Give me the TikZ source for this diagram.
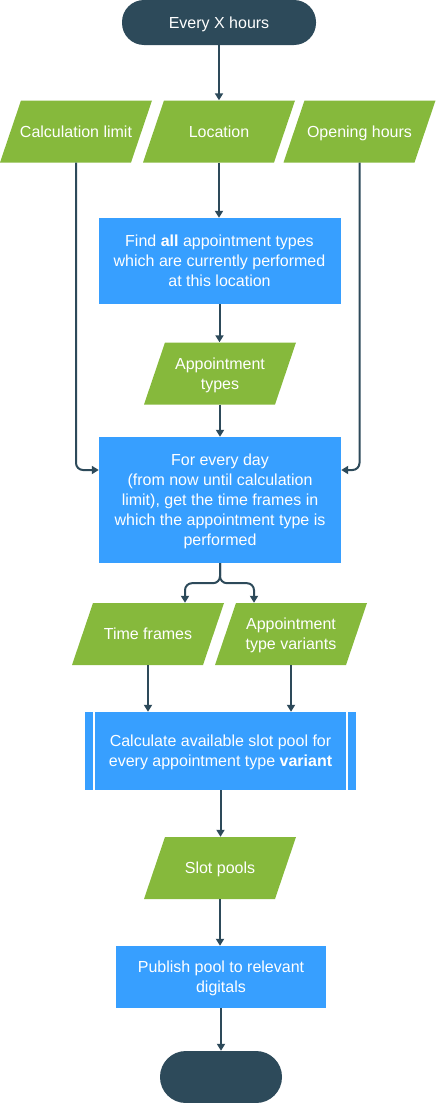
\documentclass[tikz,border=0pt]{standalone}
\usepackage{fontspec}
\setmainfont{Liberation Sans}
\usetikzlibrary{arrows.meta,calc}
\definecolor{navy}{HTML}{2D4A5A}
\definecolor{leaf}{HTML}{86B93C}
\definecolor{sky}{HTML}{379FFF}
\tikzset{
  base/.style={text=white, font=\fontsize{16}{20}\selectfont, align=center, inner sep=0pt, text depth=0pt},
  termbox/.style={base, fill=navy},
  procbox/.style={base, fill=sky},
  databox/.style={base, minimum width=152pt, minimum height=62pt,
    path picture={\fill[leaf] ([xshift=21pt]path picture bounding box.north west)
      -- (path picture bounding box.north east)
      -- ([xshift=-21pt]path picture bounding box.south east)
      -- (path picture bounding box.south west) -- cycle;}},
  predef/.style={procbox,
    path picture={\draw[white, line width=2pt]
      ([xshift=8.5pt]path picture bounding box.north west) -- ([xshift=8.5pt]path picture bounding box.south west)
      ([xshift=-9pt]path picture bounding box.north east) -- ([xshift=-9pt]path picture bounding box.south east);}},
  arr/.style={draw=navy, line width=2pt, -{Triangle[width=8pt,length=7pt]}},
}
\begin{document}
\begin{tikzpicture}[x=1pt,y=-1pt]
\useasboundingbox (0,0) rectangle (436,1103);
% nodes
\node[termbox, rounded corners=22pt, minimum width=194pt, minimum height=45pt] (start) at (219,22.5) {Every X hours};
\node[databox] (climit) at (76,131.5) {Calculation limit};
\node[databox] (loc) at (219,131.5) {Location};
\node[databox] (hours) at (359.5,131.5) {Opening hours};
\node[procbox, minimum width=242pt, minimum height=86pt] (find) at (219.5,261) {Find \textbf{all} appointment types\\which are currently performed\\at this location};
\node[databox] (types) at (220,373.5) {Appointment\\types};
\node[procbox, minimum width=242pt, minimum height=126pt] (days) at (220,500) {For every day\\(from now until calculation\\limit), get the time frames in\\which the appointment type is\\performed};
\node[databox] (tf) at (148,634) {Time frames};
\node[databox] (var) at (291,634) {Appointment\\type variants};
\node[predef, minimum width=271pt, minimum height=78pt] (pp) at (220.5,751) {Calculate available slot pool for\\every appointment type \textbf{variant}};
\node[databox] (slot) at (220,868) {Slot pools};
\node[procbox, minimum width=210pt, minimum height=62pt] (pub) at (221,977) {Publish pool to relevant\\digitals};
\node[termbox, rounded corners=25.9pt, minimum width=122pt, minimum height=52pt] (stop) at (221,1077) {};
% connectors
\draw[arr] (start.south) -- (start.south |- loc.north);
\draw[arr] (loc.south) -- (loc.south |- find.north);
\draw[arr] (find.south) -- (find.south |- types.north);
\draw[arr] (types.south) -- (types.south |- days.north);
\draw[arr, rounded corners=7pt] (climit.south) |- ([yshift=30pt]days.west);
\draw[arr, rounded corners=7pt] (hours.south) |- ([yshift=30pt]days.east);
\draw[arr, rounded corners=7pt] (days.south) -- ++(0,20) -| ([xshift=37pt]tf.north);
\draw[arr, rounded corners=7pt] (days.south) -- ++(0,20) -| ([xshift=-37pt]var.north);
\draw[arr] (tf.south) -- (tf.south |- pp.north);
\draw[arr] (var.south) -- (var.south |- pp.north);
\draw[arr] (pp.south) -- (pp.south |- slot.north);
\draw[arr] (slot.south) -- (slot.south |- pub.north);
\draw[arr] (pub.south) -- (pub.south |- stop.north);
\end{tikzpicture}
\end{document}
